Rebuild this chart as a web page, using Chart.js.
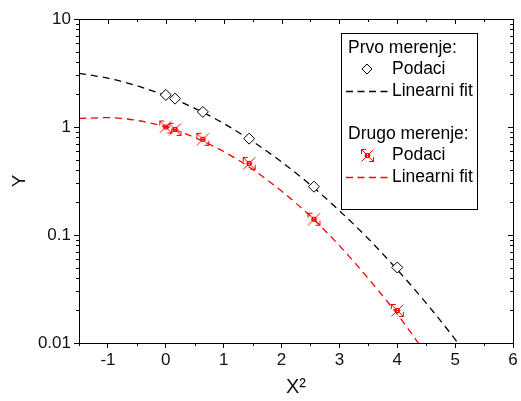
<!DOCTYPE html>
<html>
<head>
<meta charset="utf-8">
<script src="https://cdn.jsdelivr.net/npm/chart.js@4/dist/chart.umd.min.js"></script>
<style>
  html, body { margin: 0; padding: 0; background: #fff; }
  #wrap { width: 521px; height: 401px; position: relative; }
</style>
</head>
<body>
<div id="wrap"><canvas id="grafik" width="521" height="401"></canvas></div>
<script>
// ===== PODACI =====
const xTickVals = [-1, 0, 1, 2, 3, 4, 5, 6];
const yTickVals = [0.01, 0.1, 1, 10];

const podaciX = [0, 0.16, 0.64, 1.44, 2.56, 4.0];
const prvoY = [1.98, 1.83, 1.38, 0.78, 0.28, 0.05];
const drugoY = [1.0, 0.95, 0.77, 0.46, 0.14, 0.02];

const fitPrvoX = [-1.5, -1, -0.5, 0, 0.5, 1, 1.5, 2, 2.5, 3, 3.5, 4, 4.5, 5, 5.5];
const fitPrvoY = [3.14, 2.83, 2.41, 1.95, 1.49, 1.08, 0.735, 0.475, 0.291, 0.168, 0.0922, 0.0477, 0.0234, 0.0108, 0.0046];
const fitDrugoX = [-1.5, -1, -0.5, 0, 0.5, 1, 1.5, 2, 2.5, 3, 3.5, 4, 4.5];
const fitDrugoY = [1.20, 1.22, 1.15, 1.0, 0.80, 0.593, 0.405, 0.255, 0.149, 0.0797, 0.0395, 0.0185, 0.0079];

const legendaStavke = ['Prvo merenje:', 'Podaci', 'Linearni fit', 'Drugo merenje:', 'Podaci', 'Linearni fit'];

const FONT = '"Liberation Sans", Arial, sans-serif';
const CRNA = '#000000';
const CRVENA = '#ff0000';

function parovi(xs, ys) {
    return xs.map((x, i) => ({ x: x, y: ys[i] }));
}

// crveni marker (X sa crticama)
function napraviMarker() {
    const c = document.createElement('canvas');
    c.width = 15; c.height = 15;
    const g = c.getContext('2d');
    g.strokeStyle = CRVENA;
    g.lineWidth = 1;
    g.beginPath();
    g.moveTo(1.5, 1.5); g.lineTo(13.5, 13.5);
    g.moveTo(13.5, 1.5); g.lineTo(1.5, 13.5);
    g.moveTo(1, 1.5); g.lineTo(6, 1.5);
    g.moveTo(9, 13.5); g.lineTo(14, 13.5);
    g.moveTo(1.5, 1); g.lineTo(1.5, 6);
    g.moveTo(13.5, 9); g.lineTo(13.5, 14);
    g.moveTo(4.5, 7.5); g.lineTo(10.5, 7.5);
    g.stroke();
    g.strokeRect(5.5, 5.5, 4, 4);
    return c;
}
const crveniMarker = napraviMarker();

// ===== PLUGIN: okvir, sporedni podeoci, legenda =====
const okvirPlugin = {
    id: 'okvir',
    afterDraw(chart) {
        const ctx = chart.ctx;
        const a = chart.chartArea;
        const sx = chart.scales.x;
        const sy = chart.scales.y;
        ctx.save();
        ctx.strokeStyle = CRNA;
        ctx.lineWidth = 1;
        ctx.strokeRect(Math.round(a.left) + 0.5, Math.round(a.top) + 0.5,
            Math.round(a.right - a.left), Math.round(a.bottom - a.top));

        ctx.beginPath();
        // x podeoci
        for (let v = -1.5; v <= 6.001; v += 0.5) {
            const px = Math.round(sx.getPixelForValue(v)) + 0.5;
            const glavni = Math.abs(v - Math.round(v)) < 1e-6;
            const len = glavni ? 5 : 3;
            if (!glavni) { ctx.moveTo(px, a.bottom); ctx.lineTo(px, a.bottom + len); }
            ctx.moveTo(px, a.top); ctx.lineTo(px, a.top + len);
        }
        // y podeoci
        for (let e = -2; e <= 1; e++) {
            for (let m = 1; m <= 9; m++) {
                const v = m * Math.pow(10, e);
                if (v > 10.0001 || v < 0.0099) continue;
                const py = Math.round(sy.getPixelForValue(v)) + 0.5;
                const len = m === 1 ? 5 : 3;
                if (m !== 1) { ctx.moveTo(a.left, py); ctx.lineTo(a.left - len, py); }
                ctx.moveTo(a.right, py); ctx.lineTo(a.right - len, py);
            }
        }
        ctx.stroke();

        // legenda
        const L = 341, T = 33, R = 477, B = 209;
        ctx.fillStyle = '#fff';
        ctx.fillRect(L, T, R - L, B - T);
        ctx.strokeRect(L + 0.5, T + 0.5, R - L, B - T);
        ctx.font = '17.5px ' + FONT;
        ctx.fillStyle = CRNA;
        ctx.textBaseline = 'middle';
        const redovi = [48, 69, 91, 134, 155, 177];
        ctx.fillText(legendaStavke[0], 348, redovi[0]);
        ctx.fillText(legendaStavke[1], 392, redovi[1]);
        ctx.fillText(legendaStavke[2], 392, redovi[2]);
        ctx.fillText(legendaStavke[3], 348, redovi[3]);
        ctx.fillText(legendaStavke[4], 392, redovi[4]);
        ctx.fillText(legendaStavke[5], 392, redovi[5]);

        // simboli legende
        ctx.lineWidth = 1;
        ctx.fillStyle = '#fff';
        ctx.beginPath();
        ctx.moveTo(367, redovi[1] - 5); ctx.lineTo(372, redovi[1]);
        ctx.lineTo(367, redovi[1] + 5); ctx.lineTo(362, redovi[1]); ctx.closePath();
        ctx.fill(); ctx.stroke();
        ctx.drawImage(crveniMarker, 360, redovi[4] - 7);

        ctx.setLineDash([7, 4.5]);
        ctx.lineWidth = 1.3;
        ctx.beginPath();
        ctx.moveTo(346, redovi[2] + 0.5); ctx.lineTo(388, redovi[2] + 0.5);
        ctx.stroke();
        ctx.strokeStyle = CRVENA;
        ctx.beginPath();
        ctx.moveTo(346, redovi[5] + 0.5); ctx.lineTo(388, redovi[5] + 0.5);
        ctx.stroke();
        ctx.restore();
    }
};

// ===== GRAFIK =====
const ctx = document.getElementById('grafik').getContext('2d');
new Chart(ctx, {
    type: 'scatter',
    data: {
        datasets: [
            {
                label: 'Prvo merenje - fit',
                data: parovi(fitPrvoX, fitPrvoY),
                showLine: true,
                borderColor: CRNA,
                borderWidth: 1.3,
                borderDash: [7, 5],
                pointRadius: 0,
                cubicInterpolationMode: 'monotone',
                order: 2
            },
            {
                label: 'Drugo merenje - fit',
                data: parovi(fitDrugoX, fitDrugoY),
                showLine: true,
                borderColor: CRVENA,
                borderWidth: 1.3,
                borderDash: [7, 5],
                pointRadius: 0,
                cubicInterpolationMode: 'monotone',
                order: 2
            },
            {
                label: 'Prvo merenje - podaci',
                data: parovi(podaciX, prvoY),
                pointStyle: 'rectRot',
                pointRadius: 5.5,
                borderColor: CRNA,
                backgroundColor: '#fff',
                borderWidth: 1,
                order: 1
            },
            {
                label: 'Drugo merenje - podaci',
                data: parovi(podaciX, drugoY),
                pointStyle: crveniMarker,
                pointRadius: 7,
                order: 1
            }
        ]
    },
    options: {
        responsive: false,
        animation: false,
        events: [],
        layout: { padding: { left: 0, top: 19, right: 5, bottom: 0 } },
        plugins: {
            legend: { display: false },
            tooltip: { enabled: false }
        },
        scales: {
            x: {
                type: 'linear',
                min: -1.5,
                max: 6,
                afterBuildTicks: s => { s.ticks = xTickVals.map(v => ({ value: v })); },
                afterFit: s => { s.height = 58; s.paddingRight = 0; s.paddingLeft = 0; },
                grid: { display: true, drawOnChartArea: false, drawTicks: true, tickLength: 5, color: CRNA },
                border: { display: true, color: CRNA, width: 1 },
                ticks: {
                    color: '#111',
                    font: { family: FONT, size: 17 },
                    padding: 2,
                    maxRotation: 0,
                    callback: v => String(v)
                },
                title: {
                    display: true,
                    text: 'X²',
                    color: '#111',
                    font: { family: FONT, size: 20 },
                    padding: { top: 0, bottom: 2 }
                }
            },
            y: {
                type: 'logarithmic',
                min: 0.01,
                max: 10,
                afterBuildTicks: s => { s.ticks = yTickVals.map(v => ({ value: v })); },
                afterFit: s => { s.width = 79; s.paddingTop = 0; s.paddingBottom = 0; },
                grid: { display: true, drawOnChartArea: false, drawTicks: true, tickLength: 5, color: CRNA },
                border: { display: true, color: CRNA, width: 1 },
                ticks: {
                    color: '#111',
                    font: { family: FONT, size: 17 },
                    padding: 3,
                    callback: v => String(v)
                },
                title: {
                    display: true,
                    text: 'Y',
                    color: '#111',
                    font: { family: FONT, size: 19 },
                    padding: { top: 8, bottom: 0 }
                }
            }
        }
    },
    plugins: [okvirPlugin]
});
</script>
</body>
</html>
